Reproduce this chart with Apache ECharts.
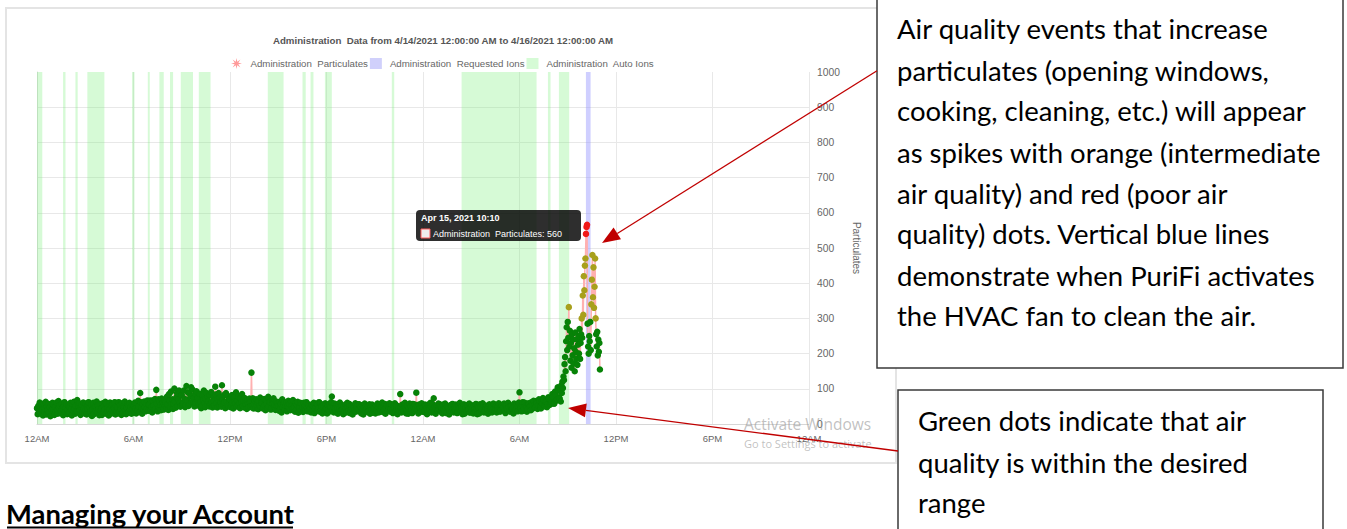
<!DOCTYPE html>
<html><head><meta charset="utf-8">
<script src="https://cdn.jsdelivr.net/npm/echarts@6/dist/echarts.min.js"></script>
<style>html,body{margin:0;padding:0;background:#fff;}#c{width:1347px;height:529px;}</style>
</head><body><div id="c"></div>
<script>
// ---------- DATA ----------
const chartTitle = 'Administration  Data from 4/14/2021 12:00:00 AM to 4/16/2021 12:00:00 AM';
const seriesNames = ['Administration  Particulates', 'Administration  Requested Ions', 'Administration  Auto Ions'];
const tickLabels = ['12AM','6AM','12PM','6PM','12AM','6AM','12PM','6PM','12AM'];
const yTicks = [0,100,200,300,400,500,600,700,800,900,1000];
const baseStepMin = 2.5;         // readings every 2.5 min from 12AM Apr 14 (one row per hour)
const particulates = [
 45,28,52,36,61,30,47,55,41,24,58,35,44,63,27,50,39,57,33,48,22,53,40,60,
 43,55,26,48,36,61,40,29,65,46,53,31,37,58,44,25,50,62,34,47,56,28,41,52,
 31,49,60,42,24,57,38,63,45,29,52,36,68,34,51,59,40,26,47,55,33,61,44,30,
 39,58,27,52,44,62,30,48,36,55,23,41,60,28,46,50,37,64,32,53,43,25,57,38,
 44,26,59,33,51,40,63,29,58,35,47,24,42,61,29,53,38,56,31,45,62,27,50,36,
 48,30,62,36,55,42,26,59,31,50,45,64,38,28,47,57,52,33,60,41,49,29,56,43,
 53,35,61,44,30,59,38,66,50,34,88,62,46,29,57,41,64,49,36,58,43,67,38,55,
 55,38,67,48,33,66,52,42,71,43,97,58,36,70,47,63,54,39,72,50,61,41,68,53,
 62,45,78,55,40,85,67,48,92,57,70,43,58,101,64,46,76,88,52,69,95,60,49,81,
 83,55,60,95,72,48,54,108,68,90,51,88,57,79,104,62,98,65,73,50,86,59,93,70,
 74,52,58,86,63,45,52,80,69,95,60,48,72,88,55,78,64,50,83,58,91,62,47,76,
 66,53,106,84,58,47,70,88,53,75,62,49,110,68,57,82,61,45,88,64,54,79,50,71,
 70,48,55,82,61,44,76,63,58,90,50,67,53,78,59,45,72,62,85,51,66,47,74,57,
 56,43,68,59,47,72,62,50,146,51,73,44,58,66,45,70,54,61,42,65,52,75,48,60,
 60,44,48,71,53,39,65,58,44,77,50,63,62,41,46,68,57,73,49,55,40,64,52,59,
 52,38,63,45,58,33,70,48,55,62,41,52,61,36,50,66,47,57,39,64,51,44,68,46,
 49,35,58,42,55,63,32,46,51,60,38,57,48,34,60,44,53,40,62,47,36,56,50,43,
 46,33,55,40,52,60,31,43,49,58,37,56,45,62,35,58,42,50,30,54,47,39,59,44,
 44,30,53,41,57,36,49,62,78,40,50,33,58,45,38,55,47,29,55,42,61,36,51,39,
 42,28,50,37,55,45,33,60,48,39,57,31,40,52,44,27,52,46,38,59,35,49,43,56,
 41,56,35,49,30,53,44,27,47,58,39,50,43,34,51,37,56,29,48,42,55,32,45,38,
 44,30,52,38,58,47,33,55,42,36,50,61,34,48,40,57,29,45,53,37,49,42,59,35,
 43,56,39,31,51,46,59,35,54,41,28,50,44,37,85,48,33,55,42,37,52,60,44,30,
 40,53,29,45,58,36,50,42,31,57,48,38,55,44,89,38,51,30,55,46,44,35,59,39,
 47,34,36,55,52,43,28,38,55,45,41,60,49,33,57,44,73,35,50,29,44,53,38,58,
 42,56,50,34,47,30,55,43,39,58,45,31,52,48,44,27,38,54,49,36,57,41,33,50,
 40,55,48,31,33,53,43,60,37,46,50,28,45,56,29,42,47,35,54,39,41,58,32,48,
 39,53,46,30,52,41,35,57,44,28,50,47,30,56,48,36,42,59,55,33,37,49,45,52,
 43,29,51,56,36,44,48,33,40,58,56,37,45,52,33,41,50,59,42,35,38,54,53,46,
 46,58,38,31,54,45,42,60,49,37,35,51,52,43,44,30,58,47,40,55,47,36,51,61,
 90,52,45,36,55,62,38,44,60,51,47,35,42,59,57,48,50,39,62,55,44,66,53,47,
 48,65,60,43,52,70,66,49,44,61,58,74,70,52,50,63,63,48,55,76,72,54,57,68,
 62,85,78,58,58,92,85,66,70,104,96,75
];
const spikeStartHour = 32.5;     // 8:30 AM Apr 15
const spikeStepMin = 2;          // readings every 2 min during the event
const spikeParticulates = [
 72,95,64,110,88,120,
 102,135,125,170,190,
 150,235,275,210,290,
 245,332,220,265,180,
 230,160,255,195,240,172,215,150,260,205,
 185,240,168,225,250,200,270,185,230,255,
 300,245,365,310,420,380,450,470,
 540,560,566,
 285,220,200,250,235,290,210,
 340,410,480,360,445,330,390,470,
 300,255,220,262,195,240,205,230,155
];
const qualityThresholds = [300, 500];   // green < 300 <= orange <= 500 < red
const autoIonBands = [
 [0,0.33],[1.62,1.77],[2.39,2.53],[3.13,4.19],[5.91,6.06],[6.89,7.01],[7.61,7.88],
 [8.27,8.46],[8.94,9.70],[10.06,10.79],[14.35,15.33],[16.51,16.71],[17.01,17.19],
 [17.90,18.33],[22.06,22.21],[26.40,31.06],[31.77,31.93],[32.45,33.09]
];
const requestedIonBands = [[34.13,34.42]];
const highlightIndex = 50;       // tooltip point in the event array (10:10 Apr 15)

// ---------- BUILD ----------
const COL_GREEN = '#078207', COL_ORANGE = '#a8a01c', COL_RED = '#f01818';
function qColor(v){ return v > qualityThresholds[1] ? COL_RED : (v >= qualityThresholds[0] ? COL_ORANGE : COL_GREEN); }
const points = [];
particulates.forEach((v,i)=>points.push([i*baseStepMin/60, v]));
spikeParticulates.forEach((v,i)=>points.push([spikeStartHour + i*spikeStepMin/60, v]));
const lineData = points.map(p=>({value:p, itemStyle:{color:qColor(p[1])}}));

function starPath(){
  let pts=[];
  for(let k=0;k<16;k++){const a=k*Math.PI/8 - Math.PI/2; const r=(k%2===0)?10:3.6; pts.push((10+r*Math.cos(a)).toFixed(2)+' '+(10+r*Math.sin(a)).toFixed(2));}
  return 'path://M'+pts.join(' L')+' Z';
}
function bandRender(color){
  return function(params, api){
    const s = api.coord([api.value(0), 1000]);
    const e = api.coord([api.value(1), 0]);
    return {type:'rect', shape:{x:s[0], y:s[1], width:Math.max(1.5, e[0]-s[0]), height:e[1]-s[1]}, style:{fill:color}};
  };
}
function arrowEls(x1,y1,x2,y2){
  const L=18, W=7, dx=x2-x1, dy=y2-y1, d=Math.hypot(dx,dy), ux=dx/d, uy=dy/d;
  const bx=x2-ux*L, by=y2-uy*L;
  return [
    {type:'line', z:300, shape:{x1:x1,y1:y1,x2:bx,y2:by}, style:{stroke:'#c00000', lineWidth:1.3}},
    {type:'polygon', z:300, shape:{points:[[x2,y2],[bx-uy*W,by+ux*W],[bx+uy*W,by-ux*W]]}, style:{fill:'#c00000'}}
  ];
}
const hp = points[particulates.length + highlightIndex];
const hh = Math.floor(hp[0]) - 24, hm = Math.round((hp[0]-Math.floor(hp[0]))*60);
const tipTitle = 'Apr 15, 2021 ' + hh + ':' + String(hm).padStart(2,'0');
const tipBody = seriesNames[0] + ': ' + hp[1];

const box1Lines = ['Air quality events that increase','particulates (opening windows,','cooking, cleaning, etc.) will appear','as spikes with orange (intermediate','air quality) and red (poor air','quality) dots. Vertical blue lines','demonstrate when PuriFi activates','the HVAC fan to clean the air.'];
const box2Lines = ['Green dots indicate that air','quality is within the desired','range'];
const DOC_FONT = 'Lato, "Open Sans", sans-serif';
const CH_FONT = '"Liberation Sans", Arial, sans-serif';

const graphics = [];
graphics.push({type:'rect', z:-10, shape:{x:6,y:8,width:890,height:455}, style:{fill:'none', stroke:'#e4e4e4', lineWidth:2}});
graphics.push({type:'text', z:50, x:443, y:40, style:{text:chartTitle, fill:'#555', font:'bold 9.7px '+CH_FONT, textAlign:'center', textVerticalAlign:'middle'}});
// tooltip
graphics.push({type:'rect', z:200, shape:{x:416,y:210,width:165,height:31,r:4}, style:{fill:'rgba(0,0,0,0.82)'}});
graphics.push({type:'text', z:201, x:421, y:218, style:{text:tipTitle, fill:'#fff', font:'bold 9px '+CH_FONT, textVerticalAlign:'middle'}});
graphics.push({type:'rect', z:201, shape:{x:421,y:229,width:9,height:9}, style:{fill:'#eee', stroke:'#ff5a5a', lineWidth:1}});
graphics.push({type:'text', z:201, x:433, y:233.5, style:{text:tipBody, fill:'#fff', font:'9px '+CH_FONT, textVerticalAlign:'middle'}});
// watermark
graphics.push({type:'text', z:250, x:744, y:424, style:{text:'Activate Windows', fill:'rgba(140,140,140,0.55)', font:'15.5px "Open Sans", sans-serif', textVerticalAlign:'middle'}});
graphics.push({type:'text', z:250, x:744, y:443, style:{text:'Go to Settings to activate', fill:'rgba(140,140,140,0.55)', font:'11px "Open Sans", sans-serif', textVerticalAlign:'middle'}});
// annotation boxes
graphics.push({type:'rect', z:260, shape:{x:877,y:-5,width:466,height:373}, style:{fill:'#fff', stroke:'#3a3a3a', lineWidth:1.5}});
const b1y=[28,70,110,152,193,233,275,315];
box1Lines.forEach((t,i)=>graphics.push({type:'text', z:261, x:897, y:b1y[i], style:{text:t, fill:'#000', font:'27.5px '+DOC_FONT, textVerticalAlign:'middle'}}));
graphics.push({type:'rect', z:260, shape:{x:898,y:390,width:425,height:150}, style:{fill:'#fff', stroke:'#3a3a3a', lineWidth:1.5}});
const b2y=[420,462,502];
box2Lines.forEach((t,i)=>graphics.push({type:'text', z:261, x:918, y:b2y[i], style:{text:t, fill:'#000', font:'27.5px '+DOC_FONT, textVerticalAlign:'middle'}}));
// heading
graphics.push({type:'text', z:50, x:6, y:513, style:{text:'Managing your Account', fill:'#000', font:'bold 27.4px '+DOC_FONT, textVerticalAlign:'middle'}});
graphics.push({type:'line', z:50, shape:{x1:7,y1:527.5,x2:293,y2:527.5}, style:{stroke:'#000', lineWidth:2}});
// arrows
arrowEls(877,70.7,602,243).forEach(e=>graphics.push(e));
arrowEls(898,451,568,408).forEach(e=>graphics.push(e));

const chart = echarts.init(document.getElementById('c'), null, {renderer:'svg'});
chart.setOption({
  animation:false,
  backgroundColor:'#fff',
  grid:{left:37, right:538, top:72, bottom:105},
  legend:{
    left:226, top:53, itemGap:2, itemWidth:12, itemHeight:11, selectedMode:false,
    textStyle:{color:'#666', fontSize:9.7, fontFamily:CH_FONT, padding:[0,0,0,3]},
    data:[
      {name:seriesNames[0], icon:starPath(), itemStyle:{color:'#ff9a9a'}},
      {name:seriesNames[1], icon:'rect', itemStyle:{color:'#d0d0fb'}},
      {name:seriesNames[2], icon:'rect', itemStyle:{color:'#d6fbd6'}}
    ]
  },
  xAxis:{type:'value', min:0, max:48, interval:6,
    axisLine:{show:true, lineStyle:{color:'#d6d6d6'}}, axisTick:{show:false},
    axisLabel:{color:'#666', fontSize:9.5, fontFamily:CH_FONT, margin:9, formatter:v=>tickLabels[Math.round(v/6)]},
    splitLine:{show:true, lineStyle:{color:'#e8e8e8'}}},
  yAxis:{type:'value', position:'right', min:0, max:1000, interval:100,
    axisLine:{show:true, lineStyle:{color:'#dcdcdc'}}, axisTick:{show:false},
    axisLabel:{color:'#666', fontSize:10.3, fontFamily:CH_FONT, margin:8, formatter:v=>String(yTicks[Math.round(v/100)])},
    splitLine:{show:true, showMaxLine:false, lineStyle:{color:'#e8e8e8'}},
    name:'Particulates', nameLocation:'middle', nameRotate:-90, nameGap:42,
    nameTextStyle:{color:'#666', fontSize:10, fontFamily:CH_FONT}},
  series:[
    {name:seriesNames[2], type:'custom', z:1, silent:true, renderItem:bandRender('rgba(120,240,120,0.3)'),
      encode:{x:[0,1], y:2}, data:autoIonBands.map(b=>[b[0],b[1],1000])},
    {name:seriesNames[1], type:'custom', z:1, silent:true, renderItem:bandRender('rgba(140,140,255,0.42)'),
      encode:{x:[0,1], y:2}, data:requestedIonBands.map(b=>[b[0],b[1],1000])},
    {name:seriesNames[0], type:'line', z:5, data:lineData, symbol:'circle', symbolSize:6.5, showSymbol:true, showAllSymbol:true,
      lineStyle:{color:'#ffb0b0', width:1.5}, emphasis:{disabled:true}}
  ],
  graphic:{elements:graphics}
});
</script></body></html>
